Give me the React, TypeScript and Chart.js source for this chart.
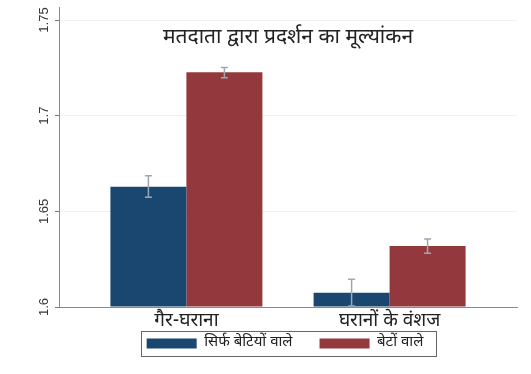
import React, { useEffect, useRef } from 'react';
import { Chart, registerables } from 'chart.js';

Chart.register(...registerables);

const categories = ['गैर-घराना', 'घरानों के वंशज'];
const seriesNames = ['सिर्फ बेटियों वाले', 'बेटों वाले'];
const daughtersOnly = [1.6628, 1.6075];
const daughtersLo = [1.6573, 1.6005];
const daughtersHi = [1.6686, 1.6145];
const sons = [1.7227, 1.6319];
const sonsLo = [1.7198, 1.6281];
const sonsHi = [1.7252, 1.6355];
const yTicks = [1.6, 1.65, 1.7, 1.75];
const titleText = 'मतदाता द्वारा प्रदर्शन का मूल्यांकन';

const DEVA = "'Noto Sans Devanagari', 'Nirmala UI', Mangal, 'Noto Sans', sans-serif";
const LATIN = "'Liberation Sans', Arial, sans-serif";

const overlay = {
  id: 'overlay',
  afterLayout(chart: any) {
    const lg = chart.legend;
    if (lg) {
      lg.top -= 24;
      lg.bottom -= 24;
      lg.left -= 3;
      lg.right -= 3;
    }
  },
  afterDatasetsDraw(chart: any) {
    const ctx = chart.ctx;
    const ys = chart.scales.y;
    const sets = [
      [daughtersLo, daughtersHi],
      [sonsLo, sonsHi],
    ];
    ctx.save();
    ctx.strokeStyle = '#9ba7b3';
    ctx.lineWidth = 1.5;
    sets.forEach(([lo, hi], di) => {
      chart.getDatasetMeta(di).data.forEach((bar: any, j: number) => {
        const x = bar.x;
        const y1 = ys.getPixelForValue(lo[j]);
        const y2 = ys.getPixelForValue(hi[j]);
        ctx.beginPath();
        ctx.moveTo(x, y1);
        ctx.lineTo(x, y2);
        ctx.moveTo(x - 3.5, y1);
        ctx.lineTo(x + 3.5, y1);
        ctx.moveTo(x - 3.5, y2);
        ctx.lineTo(x + 3.5, y2);
        ctx.stroke();
      });
    });
    ctx.restore();
  },
  afterDraw(chart: any) {
    const ctx = chart.ctx;
    const area = chart.chartArea;
    ctx.save();
    ctx.fillStyle = '#222';
    ctx.font = `21px ${DEVA}`;
    ctx.textAlign = 'center';
    ctx.textBaseline = 'middle';
    ctx.fillText(titleText, (area.left + area.right) / 2, area.top + 32);
    const boxes = chart.legend?.legendHitBoxes || [];
    if (boxes.length) {
      const left = Math.min(...boxes.map((b: any) => b.left)) - 6;
      const right = Math.max(...boxes.map((b: any) => b.left + b.width)) + 12;
      const cy = boxes[0].top + boxes[0].height / 2;
      ctx.strokeStyle = '#666';
      ctx.lineWidth = 1;
      ctx.strokeRect(Math.round(left) + 0.5, Math.round(cy - 12.5) + 0.5, Math.round(right - left), 25);
    }
    ctx.restore();
  },
};

export default function App() {
  const ref = useRef<HTMLCanvasElement | null>(null);
  useEffect(() => {
    document.body.style.margin = '0';
    const canvas = ref.current;
    if (!canvas) return;
    const chart = new Chart(canvas, {
      type: 'bar',
      data: {
        datasets: [
          {
            label: seriesNames[0],
            data: daughtersOnly.map((v, i) => ({ x: i + 1, y: v })),
            backgroundColor: '#1a476f',
            borderWidth: 0,
            base: 1.6,
            categoryPercentage: 0.748,
            barPercentage: 1,
          } as any,
          {
            label: seriesNames[1],
            data: sons.map((v, i) => ({ x: i + 1, y: v })),
            backgroundColor: '#93383c',
            borderWidth: 0,
            base: 1.6,
            categoryPercentage: 0.748,
            barPercentage: 1,
          } as any,
        ],
      },
      options: {
        animation: false,
        responsive: false,
        maintainAspectRatio: false,
        layout: { padding: { top: 7, right: 14, left: 0, bottom: 0 } },
        scales: {
          x: {
            type: 'linear',
            min: 0.373,
            max: 2.627,
            offset: false,
            afterBuildTicks: (s: any) => {
              s.ticks = categories.map((_, i) => ({ value: i + 1 }));
            },
            afterFit: (s: any) => {
              s.height = 26;
            },
            ticks: {
              callback: (v: any) => categories[Math.round(v) - 1] ?? '',
              font: { size: 19, family: DEVA },
              color: '#222',
              maxRotation: 0,
              minRotation: 0,
              autoSkip: false,
              padding: 4,
            },
            grid: { display: false, drawTicks: false },
            border: { color: '#8a8a8a', width: 1 },
          },
          y: {
            type: 'linear',
            min: 1.6,
            max: 1.7568,
            afterBuildTicks: (s: any) => {
              s.ticks = yTicks.map((v) => ({ value: v }));
            },
            afterFit: (s: any) => {
              s.width = 59;
            },
            ticks: {
              callback: (v: any) => String(v),
              minRotation: 90,
              maxRotation: 90,
              crossAlign: 'center',
              padding: -2,
              font: { size: 13, family: LATIN },
              color: '#333',
            },
            grid: {
              color: (c: any) => (c.tick && Math.abs(c.tick.value - 1.6) < 1e-9 ? 'rgba(0,0,0,0)' : '#eef0f5'),
              tickColor: '#7a7a7a',
              tickLength: 4,
            },
            border: { color: '#8a8a8a', width: 1 },
          },
        },
        plugins: {
          legend: {
            position: 'bottom',
            fullSize: false,
            maxHeight: 41,
            labels: {
              boxWidth: 50,
              boxHeight: 10,
              padding: 27,
              font: { size: 15, family: DEVA },
              color: '#222',
            },
          },
          tooltip: { enabled: false },
          title: { display: false },
        },
      } as any,
      plugins: [overlay],
    });
    return () => chart.destroy();
  }, []);
  return (
    <div style={{ width: 531, height: 374 }}>
      <canvas ref={ref} width={531} height={374} style={{ display: 'block', width: 531, height: 374 }} />
    </div>
  );
}
